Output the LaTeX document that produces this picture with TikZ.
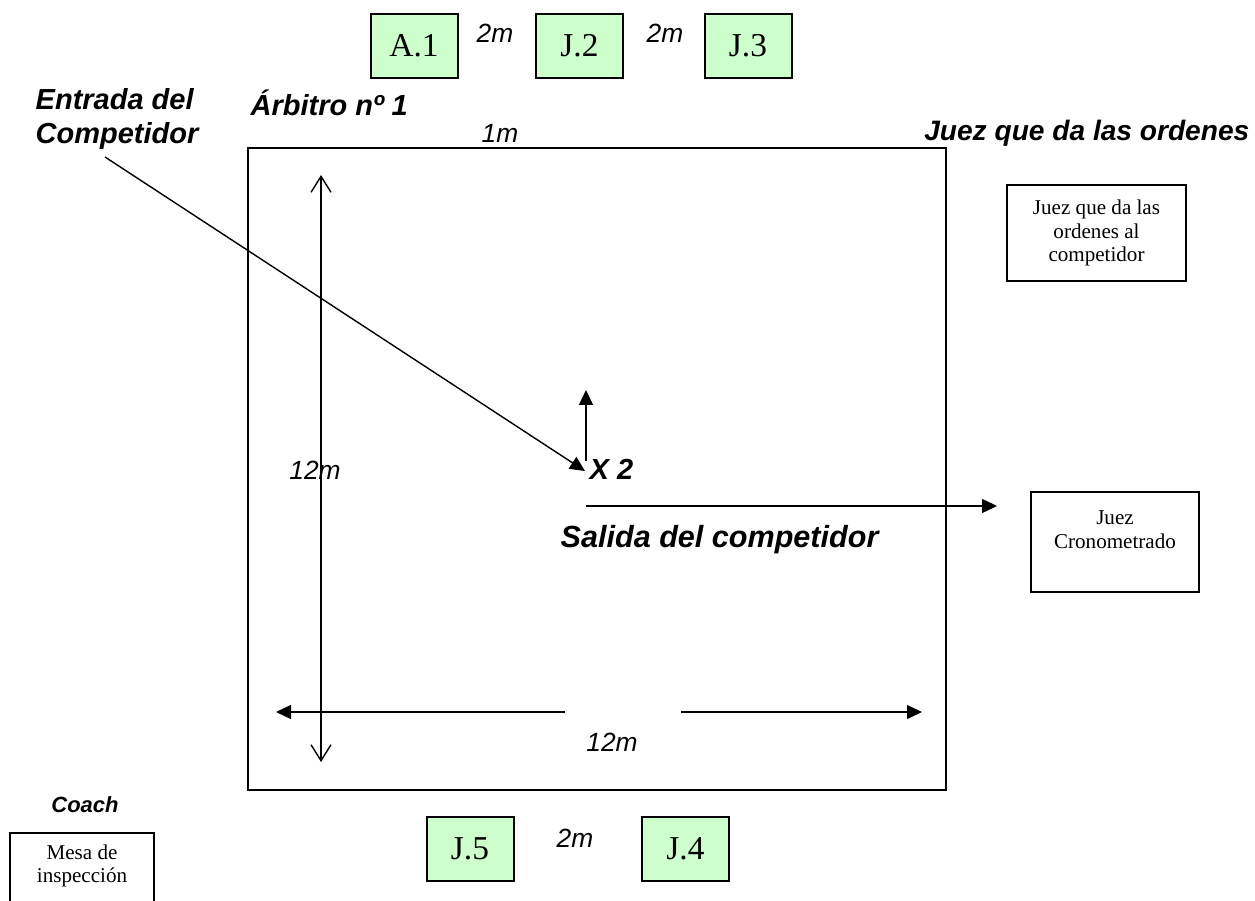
\documentclass[tikz,border=0pt]{standalone}
\usepackage{fontspec}
\setmainfont{Liberation Serif}
\setsansfont{Liberation Sans}
\usetikzlibrary{arrows.meta,positioning}

\begin{document}
\begin{tikzpicture} [x=0.2mm,y=-0.2mm,line width=0.28mm,
    juez/.style={draw,line width=0.4mm,fill=green!20,minimum width=17.4mm,minimum height=12.8mm,font=\fontsize{19}{22}\selectfont},
    caja/.style={draw,line width=0.35mm,align=center,font=\fontsize{12}{13.5}\selectfont},
    rotulo/.style={font=\fontsize{16.5}{19.5}\selectfont\sffamily\bfseries\itshape,inner sep=0pt,align=left},
    medida/.style={font=\fontsize{15}{18}\selectfont\sffamily\itshape,inner sep=0pt},
    flecha/.style={-{Triangle[length=3mm,width=2.8mm]}},
    cota/.style={{Straight Barb[length=3.2mm,width=4mm]}-{Straight Barb[length=3.2mm,width=4mm]}}]
  \useasboundingbox (0,0) rectangle (1255,901);
  \clip (0,0) rectangle (1255,901);

  % tatami
  \node[draw,line width=0.45mm,minimum width=139.6mm,minimum height=128.4mm] (tatami) at (597,469) {};

  % jueces
  \node[juez] (A1) at (414,46) {A.1};
  \node[juez] (J2) at (579.5,46) {J.2};
  \node[juez] (J3) at (748,46) {J.3};
  \node[juez] (J5) at (470,848.5) {J.5};
  \node[juez] (J4) at (685.5,848.5) {J.4};
  \node[medida] (d1) at (495,33) {2m};
  \node[medida] (d2) at (665,33) {2m};
  \node[medida] (d3) at (575,838) {2m};

  % cajas blancas
  \node[caja,minimum width=35.8mm,minimum height=19.2mm] (ordenes) at (1096.5,233) {Juez que da las\\ordenes al\\competidor};
  \node[caja,minimum width=33.6mm,minimum height=20mm] (crono) at (1115,542) {};
  \node[font=\fontsize{12}{13.5}\selectfont,align=center] (cronotxt) at (1115,530) {Juez\\Cronometrado};
  \node[caja,minimum width=28.8mm,minimum height=20mm,anchor=north] (mesa) at (82,832) {};
  \node[font=\fontsize{12}{13.5}\selectfont,align=center] (mesatxt) at (82,866) {Mesa de\\inspección};

  % rotulos
  \node[rotulo,anchor=north west] (entrada) at (35,88) {Entrada del\\Competidor};
  \node[rotulo,anchor=west] (arbitro) at (250,103) {Árbitro nº 1};
  \node[medida] (uno) at (500,133) {1m};
  \node[rotulo,font=\fontsize{16}{19}\selectfont\sffamily\bfseries\itshape,anchor=east] (juezord) at (1250,133) {Juez que da las ordenes};
  \node[rotulo,anchor=west] (x2) at (589,469) {X 2};
  \node[rotulo,font=\fontsize{17.4}{20}\selectfont\sffamily\bfseries\itshape,anchor=west] (salida) at (560,540) {Salida del competidor};
  \node[rotulo,font=\fontsize{12.5}{15}\selectfont\sffamily\bfseries\itshape] (coach) at (85,805) {Coach};
  \node[medida] (largo) at (315,470) {12m};
  \node[medida] (ancho) at (612,742) {12m};

  \coordinate (ini) at (105,157);
  \coordinate (centro) at (585,471);
  \coordinate (pie) at (586,461);
  \coordinate (arriba) at (586,390);
  \coordinate (sal1) at (586,506);
  \coordinate (sal2) at (997,506);
  \coordinate (vtop) at (321,175);
  \coordinate (vbot) at (321,762);
  \coordinate (h1) at (565,712);
  \coordinate (h2) at (276,712);
  \coordinate (h3) at (681,712);
  \coordinate (h4) at (922,712);

  \path[flecha]
    (ini) edge (centro)
    (pie) edge (arriba)
    (sal1) edge (sal2)
    (h1) edge (h2)
    (h3) edge (h4);
  \draw[cota] (vtop) -- (vbot);
\end{tikzpicture}
\end{document}
